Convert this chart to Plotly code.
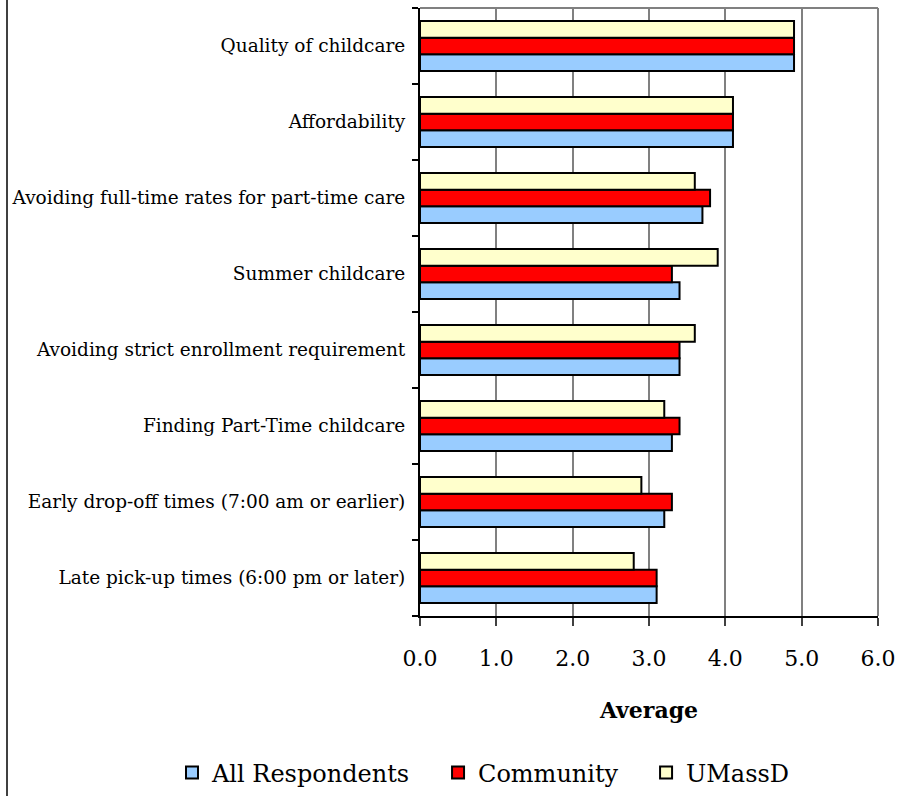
import plotly.graph_objects as go

categories = [
    "Quality of childcare",
    "Affordability",
    "Avoiding full-time rates for part-time care",
    "Summer childcare",
    "Avoiding strict enrollment requirement",
    "Finding Part-Time childcare",
    "Early drop-off times (7:00 am or earlier)",
    "Late pick-up times (6:00 pm or later)",
]
series_names = ["All Respondents", "Community", "UMassD"]
all_respondents = [4.9, 4.1, 3.7, 3.4, 3.4, 3.3, 3.2, 3.1]
community = [4.9, 4.1, 3.8, 3.3, 3.4, 3.4, 3.3, 3.1]
umassd = [4.9, 4.1, 3.6, 3.9, 3.6, 3.2, 2.9, 2.8]
x_ticks = [0, 1, 2, 3, 4, 5, 6]
x_tick_labels = ["0.0", "1.0", "2.0", "3.0", "4.0", "5.0", "6.0"]

FONT = "'DejaVu Serif', serif"
W, H = 900, 796
ML, MR, MT, MB = 420, 22, 8, 180
PW, PH = W - ML - MR, H - MT - MB
PAD = "\u00a0\u00a0\u00a0"  # extra gap after legend labels

fig = go.Figure()
for name, vals, color in zip(
    series_names,
    [all_respondents, community, umassd],
    ["#99CCFF", "#FF0000", "#FFFFCC"],
):
    fig.add_trace(go.Bar(
        name=name + PAD, y=categories, x=vals, orientation="h",
        marker=dict(color=color, line=dict(color="black", width=2)),
        hovertemplate=name + ": %{x}<extra></extra>",
    ))

fig.update_layout(
    width=W, height=H,
    margin=dict(l=ML, r=MR, t=MT, b=MB, pad=0, autoexpand=False),
    barmode="group", bargap=0.34, bargroupgap=0,
    plot_bgcolor="white", paper_bgcolor="white",
    font=dict(family=FONT, color="black"),
    showlegend=True,
    legend=dict(
        orientation="h",
        x=(172 - ML) / PW, xanchor="left",
        y=(MT + PH - 773) / PH, yanchor="middle",
        font=dict(family=FONT, size=24, color="black"),
        itemwidth=30, tracegroupgap=0,
    ),
    xaxis=dict(
        range=[0, 6], tickvals=x_ticks, ticktext=x_tick_labels,
        automargin=False,
        showgrid=True, gridcolor="#808080", gridwidth=1.5,
        showline=True, linecolor="black", linewidth=2,
        ticks="outside", ticklen=8, tickcolor="#404040", tickwidth=1.5,
        ticklabelstandoff=14,
        tickfont=dict(family=FONT, size=22, color="black"),
        title=dict(text="<b>Average</b>", font=dict(family=FONT, size=22, color="black"), standoff=32),
        zeroline=False,
    ),
    yaxis=dict(
        categoryorder="array", categoryarray=list(reversed(categories)),
        automargin=False,
        showline=True, linecolor="black", linewidth=2,
        ticks="outside", ticklen=6, tickcolor="black", tickwidth=1.5,
        tickson="boundaries", ticklabelstandoff=9,
        tickfont=dict(family=FONT, size=18.5, color="black"),
        showgrid=False, zeroline=False,
    ),
    shapes=[
        dict(type="line", xref="paper", yref="paper", x0=0, x1=1, y0=1, y1=1,
             line=dict(color="#808080", width=2)),
        dict(type="line", xref="paper", yref="paper", x0=1, x1=1, y0=0, y1=1,
             line=dict(color="#808080", width=2)),
        dict(type="line", xref="paper", yref="paper",
             x0=(7 - ML) / PW, x1=(7 - ML) / PW,
             y0=-(MB) / PH, y1=1 + MT / PH,
             line=dict(color="#404040", width=2)),
    ],
)

fig.write_html("out.html")
